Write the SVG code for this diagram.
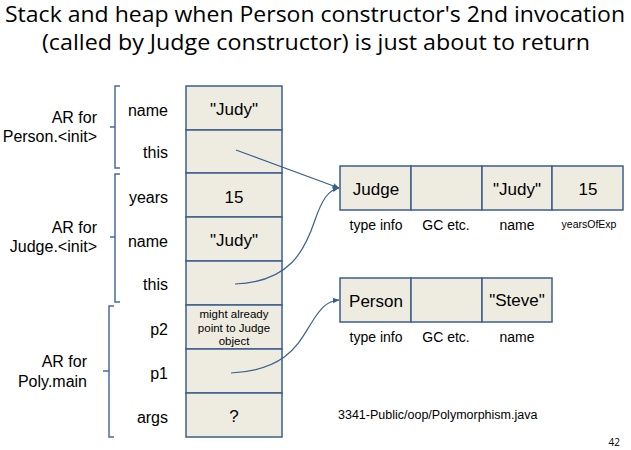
<svg xmlns="http://www.w3.org/2000/svg" width="631" height="450" viewBox="0 0 631 450">
<defs>
<style>
.t{font-family:"Liberation Sans",Arial,sans-serif;fill:#000}
.title{font-family:"Open Sans","Noto Sans",sans-serif;font-size:22.5px;fill:#000;text-anchor:middle}
.lbl{font-size:16px;text-anchor:end}
.ar{font-size:16px;text-anchor:end}
.val{font-size:17px;text-anchor:middle}
.cap{font-size:14px;text-anchor:middle}
.cell{fill:#EEECE1;stroke:#3B5F8C;stroke-width:1.5}
.brace{fill:none;stroke:#4A6C99;stroke-width:1.5}
.conn{fill:none;stroke:#3B5F8C;stroke-width:1.2}
</style>
<marker id="ah" viewBox="0 0 10 10" refX="9" refY="5" markerWidth="7" markerHeight="7" orient="auto" markerUnits="userSpaceOnUse">
<path d="M0,1 L10,5 L0,9 Z" fill="#3B5F8C"/>
</marker>
</defs>
<rect width="631" height="450" fill="#fff"/>
<g id="title">
<text class="title" x="315" y="22" textLength="620" lengthAdjust="spacingAndGlyphs">Stack and heap when Person constructor's 2nd invocation</text>
<text class="title" x="316" y="50" textLength="548" lengthAdjust="spacingAndGlyphs">(called by Judge constructor) is just about to return</text>
</g>
<g id="ar-person">
<path class="brace" d="M120,86 H115 V168 H120 M115,127 H110"/>
<text class="t ar" x="97" y="123">AR for</text>
<text class="t ar" x="97" y="142">Person.&lt;init&gt;</text>
</g>
<g id="ar-judge">
<path class="brace" d="M120,174 H115 V302 H120 M115,237 H110"/>
<text class="t ar" x="97" y="233">AR for</text>
<text class="t ar" x="97" y="252">Judge.&lt;init&gt;</text>
</g>
<g id="ar-poly">
<path class="brace" d="M114,306 H109 V437 H114 M109,371 H103"/>
<text class="t ar" x="87" y="367">AR for</text>
<text class="t ar" x="87" y="387">Poly.main</text>
</g>
<g id="stack">
<g id="s-name1"><rect class="cell" x="186" y="86" width="96" height="44"/><text class="t val" x="234" y="115">"Judy"</text><text class="t lbl" x="168" y="116">name</text></g>
<g id="s-this1"><rect class="cell" x="186" y="130" width="96" height="43"/><text class="t lbl" x="168" y="158">this</text></g>
<g id="s-years"><rect class="cell" x="186" y="173" width="96" height="44"/><text class="t val" x="234" y="203">15</text><text class="t lbl" x="168" y="203">years</text></g>
<g id="s-name2"><rect class="cell" x="186" y="217" width="96" height="44"/><text class="t val" x="234" y="246">"Judy"</text><text class="t lbl" x="168" y="247">name</text></g>
<g id="s-this2"><rect class="cell" x="186" y="261" width="96" height="44"/><text class="t lbl" x="168" y="290">this</text></g>
<g id="s-p2"><rect class="cell" x="186" y="305" width="96" height="44"/><text class="t" x="234" y="318" font-size="11.5" text-anchor="middle">might already</text><text class="t" x="234" y="332" font-size="11.5" text-anchor="middle">point to Judge</text><text class="t" x="234" y="345" font-size="11.5" text-anchor="middle">object</text><text class="t lbl" x="168" y="335">p2</text></g>
<g id="s-p1"><rect class="cell" x="186" y="349" width="96" height="44"/><text class="t lbl" x="168" y="379">p1</text></g>
<g id="s-args"><rect class="cell" x="186" y="393" width="96" height="44"/><text class="t val" x="234" y="422">?</text><text class="t lbl" x="168" y="423">args</text></g>
</g>
<g id="judge-obj">
<rect class="cell" x="340" y="166" width="71" height="44"/>
<rect class="cell" x="411" y="166" width="71" height="44"/>
<rect class="cell" x="482" y="166" width="70" height="44"/>
<rect class="cell" x="552" y="166" width="71" height="44"/>
<text class="t val" x="376" y="195" font-size="18">Judge</text>
<text class="t val" x="517" y="195">"Judy"</text>
<text class="t val" x="588" y="195">15</text>
<text class="t cap" x="376" y="230">type info</text>
<text class="t cap" x="446" y="230">GC etc.</text>
<text class="t cap" x="517" y="230">name</text>
<text class="t" x="589" y="228" font-size="10.5" text-anchor="middle">yearsOfExp</text>
</g>
<g id="person-obj">
<rect class="cell" x="340" y="278" width="71" height="44"/>
<rect class="cell" x="411" y="278" width="71" height="44"/>
<rect class="cell" x="482" y="278" width="70" height="44"/>
<text class="t val" x="376" y="307" font-size="18">Person</text>
<text class="t val" x="517" y="306" font-size="14">"Steve"</text>
<text class="t cap" x="376" y="342">type info</text>
<text class="t cap" x="446" y="342">GC etc.</text>
<text class="t cap" x="517" y="342">name</text>
</g>
<g id="connectors">
<path class="conn" d="M236,150 L339,188" marker-end="url(#ah)"/>
<path class="conn" d="M235,284 C290,282 305,250 315,220 C322,200 328,190 339,188" marker-end="url(#ah)"/>
<path class="conn" d="M231,373 C290,370 300,340 312,322 C322,306 328,301 339,300" marker-end="url(#ah)"/>
</g>
<text class="t" x="338" y="419" font-size="12.5">3341-Public/oop/Polymorphism.java</text>
<text x="620" y="446" font-family="'Open Sans',sans-serif" font-size="10" text-anchor="end" fill="#000">42</text>
</svg>
